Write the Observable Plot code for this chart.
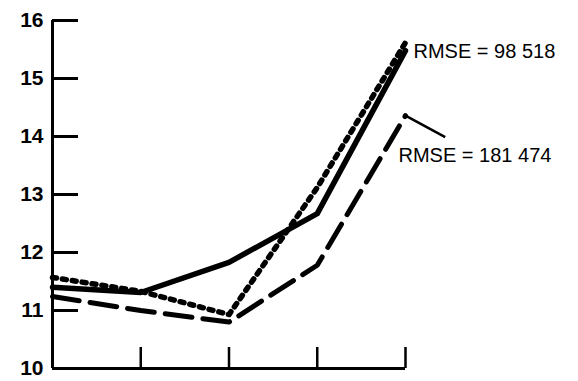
<!DOCTYPE html>
<html>
<head>
<meta charset="utf-8">
<script src="https://cdn.jsdelivr.net/npm/d3@7"></script>
<script src="https://cdn.jsdelivr.net/npm/@observablehq/plot@0.6"></script>
<style>
  html, body { margin: 0; padding: 0; background: #fff; }
  svg { display: block; }
</style>
</head>
<body>
<div id="chart"></div>
<script>
// Categories (x positions, unlabeled in the original)
const periods = [0, 1, 2, 3, 4];
// Series values
const solidValues  = [11.4, 11.31, 11.83, 12.67, 15.48];
const dottedValues = [11.57, 11.33, 10.93, 13.12, 15.62];
const dashedValues = [11.24, 11.0, 10.8, 11.78, 14.36];
// Axis ticks
const yTicks = [10, 11, 12, 13, 14, 15, 16];
const xTicks = [1, 2, 3, 4];
// Annotations
const labelTexts = ["RMSE = 98 518", "RMSE = 181 474"];

const rows = (name, vals) => periods.map((p, i) => ({series: name, x: p, y: vals[i]}));
const solid = rows("solid", solidValues);
const dotted = rows("dotted", dottedValues);
const dashed = rows("dashed", dashedValues);

const last = periods.length - 1;
const labels = [
  {x: periods[last], y: solidValues[last], text: labelTexts[0]},
  {x: periods[last], y: dashedValues[last], text: labelTexts[1]}
];

const W = 578, ML = 52, MR = 173, TICK = 26;
const inner = W - ML - MR;

const chart = Plot.plot({
  width: W,
  height: 381,
  marginLeft: ML,
  marginRight: MR,
  marginTop: 20,
  marginBottom: 13,
  style: {fontFamily: "'Liberation Sans', Arial, sans-serif"},
  x: {domain: [0, 4], axis: null},
  y: {domain: [10, 16], axis: null},
  marks: [
    Plot.axisY({ticks: yTicks, anchor: "left", tickSize: -TICK, stroke: "#000", strokeWidth: 3,
      tickPadding: TICK + 9, tickFormat: d => String(d), label: null,
      fontSize: 21, fontWeight: "bold", fill: "#000"}),
    Plot.ruleY(yTicks, {insetRight: inner - TICK, stroke: "#000", strokeWidth: 3}),
    Plot.tickY(yTicks, {insetRight: inner - TICK, stroke: "#000", strokeWidth: 3}),
    Plot.axisX({ticks: xTicks, anchor: "bottom", tickSize: -21, stroke: "#000", strokeWidth: 2.5, tickFormat: () => "", label: null}),
    Plot.ruleX([0], {stroke: "#000", strokeWidth: 3}),
    Plot.ruleY([10], {stroke: "#000", strokeWidth: 3}),
    Plot.line(solid, {x: "x", y: "y", stroke: "#000", strokeWidth: 5.5}),
    Plot.line(dotted, {x: "x", y: "y", stroke: "#000", strokeWidth: 5.5, strokeDasharray: "4,6"}),
    Plot.line(dashed, {x: "x", y: "y", stroke: "#000", strokeWidth: 5, strokeDasharray: "27,11"}),
    Plot.link([labels[1]], {x1: "x", y1: "y", x2: d => d.x + 0.45, y2: d => d.y - 0.37, stroke: "#000", strokeWidth: 2.5}),
    Plot.text([labels[0]], {x: "x", y: "y", text: "text", textAnchor: "start", dx: 8, dy: 1, fontSize: 20, fill: "#000"}),
    Plot.text([labels[1]], {x: "x", y: "y", text: "text", textAnchor: "start", dx: -7, dy: 40, fontSize: 20, fill: "#000"})
  ]
});
document.getElementById("chart").appendChild(chart);
</script>
</body>
</html>
